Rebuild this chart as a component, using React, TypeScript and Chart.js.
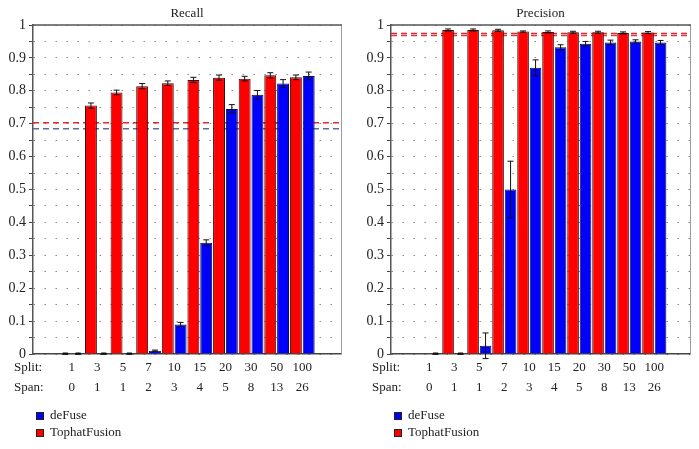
import React, { useEffect, useRef } from 'react';
import { Chart, registerables } from 'chart.js';

Chart.register(...registerables);

// ---------- data ----------
const splitLabels = ['1', '3', '5', '7', '10', '15', '20', '30', '50', '100'];
const spanLabels = ['0', '1', '1', '2', '3', '4', '5', '8', '13', '26'];

const recallTophat = [0, 0.755, 0.795, 0.814, 0.823, 0.833, 0.840, 0.837, 0.847, 0.841];
const recallTophatErr = [0, 0.008, 0.007, 0.008, 0.007, 0.008, 0.008, 0.007, 0.008, 0.007];
const recallDefuse = [0, 0, 0, 0.010, 0.090, 0.338, 0.745, 0.788, 0.822, 0.845];
const recallDefuseErr = [0, 0, 0, 0.002, 0.006, 0.009, 0.013, 0.013, 0.012, 0.012];
const recallRefValues = [0.703, 0.685];

const precisionTophat = [null, 0.985, 0.985, 0.984, 0.980, 0.979, 0.978, 0.978, 0.976, 0.977];
const precisionTophatErr = [0, 0.003, 0.003, 0.003, 0.002, 0.003, 0.003, 0.003, 0.003, 0.003];
const precisionDefuse = [0, 0, 0.025, 0.500, 0.870, 0.932, 0.943, 0.947, 0.950, 0.947];
const precisionDefuseErr = [0, 0, 0.039, 0.086, 0.024, 0.008, 0.007, 0.007, 0.005, 0.006];
const precisionRefValues = [0.974, 0.968];

const legendLabels = ['deFuse', 'TophatFusion'];

// ---------- style ----------
const FONT = '"Liberation Serif", "Times New Roman", serif';
const RED = '#ff0000';
const BLUE = '#0000ff';
const TEXT = '#222222';

type PanelDef = {
  title: string;
  tophat: (number | null)[];
  tophatErr: number[];
  defuse: (number | null)[];
  defuseErr: number[];
  refValues: number[];
  refColors: string[];
  xMin: number;
  xMax: number;
  yAxisWidth: number;
  width: number;
};

const panels: PanelDef[] = [
  {
    title: 'Recall',
    tophat: recallTophat,
    tophatErr: recallTophatErr,
    defuse: recallDefuse,
    defuseErr: recallDefuseErr,
    refValues: recallRefValues,
    refColors: ['#e8262a', '#5a6f9a'],
    xMin: 0.09,
    xMax: 10.91,
    yAxisWidth: 33,
    width: 350,
  },
  {
    title: 'Precision',
    tophat: precisionTophat,
    tophatErr: precisionTophatErr,
    defuse: precisionDefuse,
    defuseErr: precisionDefuseErr,
    refValues: precisionRefValues,
    refColors: ['#e8262a', '#d0404a'],
    xMin: 0.065,
    xMax: 10.83,
    yAxisWidth: 41,
    width: 349,
  },
];

function makePlugins(p: PanelDef) {
  const refLines = {
    id: 'refLines',
    beforeDatasetsDraw(chart: any) {
      const { ctx, chartArea } = chart;
      const y = chart.scales.y;
      ctx.save();
      ctx.lineWidth = 1.5;
      ctx.setLineDash([6, 4]);
      p.refValues.forEach((v, k) => {
        const py = y.getPixelForValue(v);
        ctx.strokeStyle = p.refColors[k];
        ctx.beginPath();
        ctx.moveTo(chartArea.left, py);
        ctx.lineTo(chartArea.right, py);
        ctx.stroke();
      });
      ctx.restore();
    },
  };

  const errorBars = {
    id: 'errorBars',
    afterDatasetsDraw(chart: any) {
      const { ctx } = chart;
      const y = chart.scales.y;
      ctx.save();
      ctx.strokeStyle = '#111';
      ctx.lineWidth = 1;
      chart.data.datasets.forEach((ds: any, d: number) => {
        const meta = chart.getDatasetMeta(d);
        meta.data.forEach((el: any, i: number) => {
          const v = ds.data[i].y;
          if (v === null || v === undefined) return;
          const e = ds.errors[i];
          const x = el.x;
          const yt = y.getPixelForValue(v + e);
          const yb = y.getPixelForValue(v - e);
          ctx.beginPath();
          ctx.moveTo(x, yt);
          ctx.lineTo(x, yb);
          ctx.moveTo(x - 3, yt);
          ctx.lineTo(x + 3, yt);
          ctx.moveTo(x - 3, yb);
          ctx.lineTo(x + 3, yb);
          ctx.stroke();
          if (e === 0) {
            ctx.fillStyle = '#111';
            ctx.fillRect(x - 2.5, yt - 1.5, 5, 2);
          }
        });
      });
      ctx.restore();
    },
  };

  const frameAndLabels = {
    id: 'frameAndLabels',
    afterDraw(chart: any) {
      const { ctx, chartArea } = chart;
      const xs = chart.scales.x;
      ctx.save();
      // frame
      ctx.strokeStyle = '#9a9a9a';
      ctx.lineWidth = 1;
      ctx.beginPath();
      ctx.moveTo(chartArea.right + 0.5, chartArea.top);
      ctx.lineTo(chartArea.right + 0.5, chartArea.bottom);
      ctx.stroke();
      ctx.strokeStyle = '#555';
      ctx.lineWidth = 1.5;
      ctx.beginPath();
      ctx.moveTo(chartArea.left, chartArea.top);
      ctx.lineTo(chartArea.right + 1, chartArea.top);
      ctx.stroke();

      // row captions
      ctx.fillStyle = TEXT;
      ctx.font = `13px ${FONT}`;
      ctx.textAlign = 'left';
      ctx.textBaseline = 'middle';
      const base = xs.top + 4;
      ctx.fillText('Split:', chartArea.left - 19, base + 10);
      ctx.fillText('Span:', chartArea.left - 19, base + 30);

      // legend
      const colors = [BLUE, RED];
      const lx = chartArea.left + 3;
      legendLabels.forEach((lab, k) => {
        const cy = 416 + k * 17;
        ctx.fillStyle = colors[k];
        ctx.fillRect(lx, cy - 4, 7, 7);
        ctx.strokeStyle = '#222';
        ctx.lineWidth = 1;
        ctx.strokeRect(lx + 0.5, cy - 3.5, 7, 7);
        ctx.fillStyle = TEXT;
        ctx.fillText(lab, lx + 14, cy);
      });
      ctx.restore();
    },
  };

  return [refLines, errorBars, frameAndLabels];
}

function makeConfig(p: PanelDef): any {
  return {
    type: 'bar',
    data: {
      datasets: [
        {
          label: 'TophatFusion',
          data: p.tophat.map((v, i) => ({ x: i + 1, y: v })),
          errors: p.tophatErr,
          backgroundColor: RED,
          borderColor: '#2a1010',
          borderWidth: 1,
          categoryPercentage: 1,
          barPercentage: 0.93,
        },
        {
          label: 'deFuse',
          data: p.defuse.map((v, i) => ({ x: i + 1, y: v })),
          errors: p.defuseErr,
          backgroundColor: BLUE,
          borderColor: '#10102a',
          borderWidth: 1,
          categoryPercentage: 1,
          barPercentage: 0.93,
        },
      ],
    },
    options: {
      animation: false,
      responsive: false,
      layout: { padding: { left: 0, right: 9, top: 0, bottom: 0 } },
      plugins: {
        legend: { display: false },
        tooltip: { enabled: false },
        title: {
          display: true,
          text: p.title,
          fullSize: false,
          color: TEXT,
          font: { family: FONT, size: 13, weight: 'normal' },
          padding: { top: 6, bottom: 3.4 },
        },
      },
      scales: {
        x: {
          type: 'linear',
          min: p.xMin,
          max: p.xMax,
          grid: { display: false, drawTicks: false },
          border: { display: true, color: '#444', width: 1.5 },
          afterBuildTicks: (s: any) => {
            s.ticks = splitLabels.map((_, i) => ({ value: i + 1 }));
          },
          afterFit: (s: any) => {
            s.height = 95;
          },
          ticks: {
            autoSkip: false,
            maxRotation: 0,
            padding: 4,
            color: TEXT,
            font: { family: FONT, size: 13, lineHeight: 20 / 13 },
            callback: (v: number) => {
              const i = Math.round(v) - 1;
              return [splitLabels[i], spanLabels[i]];
            },
          },
        },
        y: {
          min: 0,
          max: 1,
          afterFit: (s: any) => {
            s.width = p.yAxisWidth;
          },
          border: { display: true, color: '#555', width: 1.5, dash: [1.5, 9.5] },
          grid: {
            color: '#8a8a8a',
            lineWidth: 1,
            drawTicks: true,
            tickLength: 4,
            tickColor: '#444',
            tickWidth: 1,
            tickBorderDash: [],
          },
          ticks: {
            stepSize: 0.05,
            autoSkip: false,
            padding: 3,
            color: TEXT,
            font: { family: FONT, size: 14 },
            callback: (v: number) => {
              const t = Math.round(v * 100);
              if (t % 10 !== 0) return '';
              if (t === 0) return '0';
              if (t === 100) return '1';
              return (t / 100).toFixed(1);
            },
          },
        },
      },
    },
    plugins: makePlugins(p),
  };
}

function Panel({ def }: { def: PanelDef }) {
  const ref = useRef<HTMLCanvasElement>(null);
  useEffect(() => {
    if (!ref.current) return;
    const chart = new Chart(ref.current, makeConfig(def));
    return () => chart.destroy();
  }, [def]);
  return (
    <canvas
      ref={ref}
      width={def.width}
      height={449}
      style={{ display: 'block', width: def.width, height: 449 }}
    />
  );
}

export default function App() {
  return (
    <div
      style={{
        position: 'absolute',
        left: 0,
        top: 0,
        width: 699,
        height: 449,
        display: 'flex',
        background: '#ffffff',
      }}
    >
      {panels.map((p) => (
        <Panel key={p.title} def={p} />
      ))}
    </div>
  );
}
